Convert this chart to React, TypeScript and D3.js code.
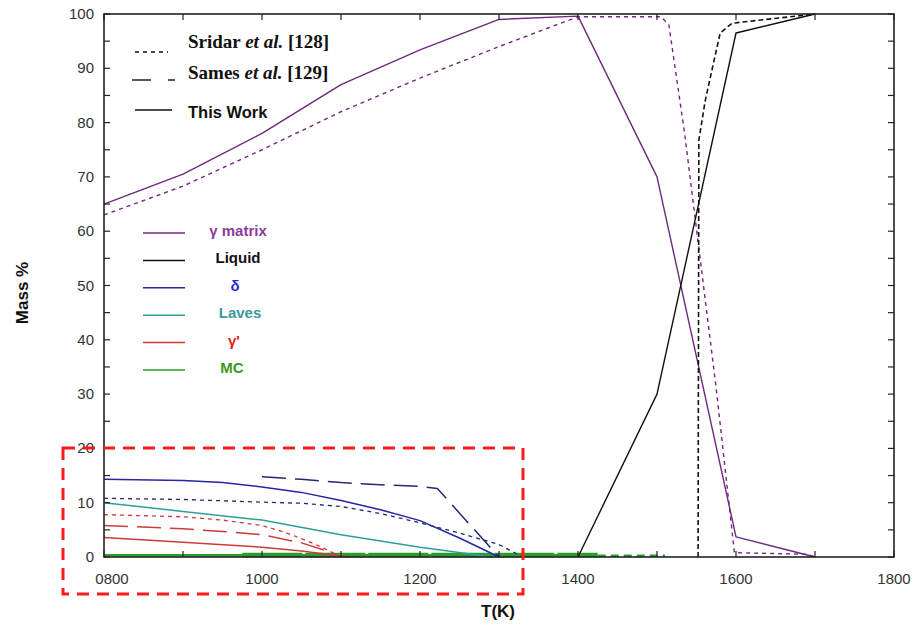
import React from "react";
import * as d3 from "d3";

type Pt = [number, number];

// Axis ticks
const tempTicks = [800, 1000, 1200, 1400, 1600, 1800];
const tempTickLabels = ["0800", "1000", "1200", "1400", "1600", "1800"];
const massTicks = [0, 10, 20, 30, 40, 50, 60, 70, 80, 90, 100];

// γ matrix
const gammaThisWork: Pt[] = [[800, 65], [900, 70.5], [1000, 78], [1100, 87], [1200, 93.4], [1300, 99], [1400, 99.6], [1500, 70], [1600, 3.7], [1700, 0]];
const gammaSridar: Pt[] = [[800, 63], [900, 68.3], [1000, 75], [1100, 82], [1200, 88.2], [1300, 94], [1400, 99.5], [1505, 99.5], [1515, 98], [1535, 78], [1575, 31], [1598, 0.8], [1690, 0.5], [1700, 0]];

// Liquid
const liquidThisWork: Pt[] = [[1400, 0], [1500, 30], [1600, 96.5], [1700, 100]];
const liquidSridar: Pt[] = [[1552, 0], [1553, 76.8], [1561, 84], [1570, 90], [1580, 96.5], [1595, 98.3], [1700, 100]];

// δ
const deltaThisWork: Pt[] = [[800, 14.3], [900, 14.1], [950, 13.7], [1000, 12.9], [1050, 11.9], [1100, 10.4], [1150, 8.7], [1200, 6.7], [1250, 3.5], [1300, 0]];
const deltaSridar: Pt[] = [[800, 10.8], [900, 10.6], [1000, 10.1], [1050, 9.9], [1100, 9.3], [1150, 8.0], [1200, 6.3], [1250, 4.4], [1300, 2.3], [1330, 0]];
const deltaSames: Pt[] = [[1000, 14.8], [1050, 14.3], [1100, 13.7], [1150, 13.3], [1200, 13], [1222, 12.6], [1300, 0]];

// Laves
const lavesThisWork: Pt[] = [[800, 10], [900, 8.4], [1000, 6.8], [1100, 4.1], [1200, 1.8], [1292, 0]];

// γ'
const gammaPrimeThisWork: Pt[] = [[800, 3.6], [900, 2.7], [1000, 1.8], [1050, 1.1], [1100, 0.2], [1110, 0]];
const gammaPrimeSridar: Pt[] = [[800, 7.8], [900, 7.4], [950, 6.8], [1000, 5.8], [1030, 4.5], [1060, 2.8], [1080, 1.5], [1100, 0]];
const gammaPrimeSames: Pt[] = [[800, 5.8], [900, 5.2], [950, 4.7], [1000, 4.1], [1050, 2.6], [1080, 1.2], [1100, 0]];

// MC
const mcThisWork: Pt[] = [[800, 0.3], [1400, 0.3]];
const mcSames: Pt[] = [[975, 0.35], [1425, 0.35]];
const mcSridar: Pt[] = [[1425, 0.25], [1510, 0.25]];

const phaseLabels = ["γ matrix", "Liquid", "δ", "Laves", "γ'", "MC"];

const COLORS = {
  gamma: "#70287f",
  liquid: "#111111",
  delta: "#2626a8",
  deltaDark: "#222a70",
  laves: "#2e9d9d",
  gammaPrime: "#cf3a3a",
  mc: "#2a9e2a",
};
const DASH = { thisWork: undefined as string | undefined, sridar: "4,4", sames: "24,9" };

const curves = [
  { data: mcThisWork, color: COLORS.mc, dash: DASH.thisWork, w: 2.5 },
  { data: mcSames, color: COLORS.mc, dash: "60,3", w: 4.5 },
  { data: mcSridar, color: COLORS.mc, dash: "8,5", w: 2.5 },
  { data: lavesThisWork, color: COLORS.laves, dash: DASH.thisWork, w: 1.5 },
  { data: gammaPrimeThisWork, color: COLORS.gammaPrime, dash: DASH.thisWork, w: 1.5 },
  { data: gammaPrimeSridar, color: COLORS.gammaPrime, dash: DASH.sridar, w: 1.3 },
  { data: gammaPrimeSames, color: COLORS.gammaPrime, dash: DASH.sames, w: 1.5 },
  { data: deltaThisWork, color: COLORS.delta, dash: DASH.thisWork, w: 1.5 },
  { data: deltaSridar, color: COLORS.deltaDark, dash: DASH.sridar, w: 1.3 },
  { data: deltaSames, color: COLORS.deltaDark, dash: DASH.sames, w: 1.5 },
  { data: gammaThisWork, color: COLORS.gamma, dash: DASH.thisWork, w: 1.4 },
  { data: gammaSridar, color: COLORS.gamma, dash: DASH.sridar, w: 1.4 },
  { data: liquidThisWork, color: COLORS.liquid, dash: DASH.thisWork, w: 1.4 },
  { data: liquidSridar, color: COLORS.liquid, dash: "5,3", w: 1.6 },
];

const legendColors = ["#8b3a9c", "#111111", "#2a2ad0", "#3a9a9a", "#e42020", "#3a9a1c"];

const W = 916;
const H = 628;
const sans = "'Liberation Sans', Arial, sans-serif";
const serif = "'Liberation Serif', 'Times New Roman', serif";

export default function App() {
  const x = d3.scaleLinear().domain([800, 1800]).range([104, 894]);
  const y = d3.scaleLinear().domain([0, 100]).range([557, 14]);
  const line = d3
    .line<Pt>()
    .x((d) => x(d[0]))
    .y((d) => y(d[1]));

  const [x0, x1] = x.range();
  const [y0, y1] = y.range();
  const minorY = d3.range(0, 101, 5);
  const minorX = d3.range(800, 1801, 100);

  const legendY = d3.scaleLinear().domain([0, 5]).range([233, 370]);
  const legendTextX = [238, 238, 235, 240, 234, 232];

  return (
    <svg width={W} height={H} style={{ position: "absolute", left: 0, top: 0, background: "#fff" }}>
      <rect x={0} y={0} width={W} height={H} fill="#fff" />

      {/* plotted curves */}
      <g fill="none">
        {curves.map((c, i) => (
          <path
            key={i}
            d={line(c.data) || ""}
            stroke={c.color}
            strokeWidth={c.w}
            strokeDasharray={c.dash}
            strokeLinejoin="round"
          />
        ))}
      </g>

      {/* frame */}
      <rect x={x0} y={y1} width={x1 - x0} height={y0 - y1} fill="none" stroke="#222" strokeWidth={1.6} />

      {/* inward ticks */}
      <g stroke="#222" strokeWidth={1.2}>
        {minorY.map((v) => (
          <g key={"y" + v}>
            <line x1={x0} x2={x0 + 6} y1={y(v)} y2={y(v)} />
            <line x1={x1} x2={x1 - 6} y1={y(v)} y2={y(v)} />
          </g>
        ))}
        {minorX.map((t) => (
          <g key={"x" + t}>
            <line x1={x(t)} x2={x(t)} y1={y0} y2={y0 - 6} />
            <line x1={x(t)} x2={x(t)} y1={y1} y2={y1 + 6} />
          </g>
        ))}
      </g>

      {/* tick labels */}
      <g fontFamily={sans} fontSize={15} fill="#333">
        {tempTicks.map((t, i) => (
          <text key={t} x={x(t) + (i === 0 ? 8 : 0)} y={584} textAnchor="middle">
            {tempTickLabels[i]}
          </text>
        ))}
        {massTicks.map((v) => (
          <text key={v} x={94} y={y(v) + 5} textAnchor="end">
            {v}
          </text>
        ))}
      </g>

      {/* axis titles */}
      <text x={498} y={617} textAnchor="middle" fontFamily={sans} fontWeight="bold" fontSize={17} fill="#111">
        T(K)
      </text>
      <text
        transform={`translate(28,293) rotate(-90)`}
        textAnchor="middle"
        fontFamily={sans}
        fontWeight="bold"
        fontSize={17}
        fill="#111"
      >
        Mass %
      </text>

      {/* source legend */}
      <g stroke="#111" strokeWidth={1.4}>
        <line x1={135} x2={168} y1={52} y2={52} strokeDasharray="4,4" />
        <line x1={132} x2={151} y1={80} y2={80} />
        <line x1={168} x2={175} y1={80} y2={80} />
        <line x1={135} x2={172} y1={110} y2={110} />
      </g>
      <text x={188} y={48} fontFamily={serif} fontWeight="bold" fontSize={19} fill="#111">
        Sridar <tspan fontStyle="italic">et al.</tspan> [128]
      </text>
      <text x={188} y={79} fontFamily={serif} fontWeight="bold" fontSize={19} fill="#111">
        Sames <tspan fontStyle="italic">et al.</tspan> [129]
      </text>
      <text x={188} y={118} fontFamily={sans} fontWeight="bold" fontSize={16.5} fill="#111">
        This Work
      </text>

      {/* phase legend */}
      {phaseLabels.map((lab, i) => (
        <g key={lab}>
          <line x1={143} x2={185} y1={legendY(i)} y2={legendY(i)} stroke={curves.length ? [COLORS.gamma, COLORS.liquid, COLORS.delta, COLORS.laves, COLORS.gammaPrime, COLORS.mc][i] : "#000"} strokeWidth={1.5} />
          <text
            x={legendTextX[i]}
            y={legendY(i) + 3}
            textAnchor="middle"
            fontFamily={sans}
            fontWeight="bold"
            fontSize={15}
            fill={legendColors[i]}
          >
            {lab}
          </text>
        </g>
      ))}

      {/* highlight box around low-fraction phases */}
      <rect x={63} y={448} width={460} height={146} fill="none" stroke="#ff1a1a" strokeWidth={3} strokeDasharray="12,8" />
    </svg>
  );
}
